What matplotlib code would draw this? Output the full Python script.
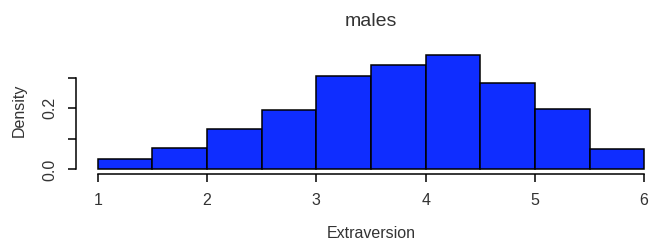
import matplotlib
matplotlib.use("Agg")
import matplotlib.pyplot as plt

# histogram of extraversion scores (density), bins of width 0.5
bin_edges = [1.0, 1.5, 2.0, 2.5, 3.0, 3.5, 4.0, 4.5, 5.0, 5.5, 6.0]
density = [0.035, 0.071, 0.131, 0.195, 0.306, 0.341, 0.374, 0.284, 0.199, 0.068]
x_ticks = [1, 2, 3, 4, 5, 6]
y_ticks = [0.0, 0.1, 0.2, 0.3]
y_tick_labels = ["0.0", "", "0.2", ""]

plt.rcParams['font.family'] = ['Liberation Sans', 'DejaVu Sans']

W, H = 653, 244
fig = plt.figure(figsize=(W / 100, H / 100), dpi=100)

# plot region in pixels (R-style 4% padding around data range)
left, right, top, bottom = 76, 666, 50.6, 174
ax = fig.add_axes([left / W, 1 - bottom / H, (right - left) / W, (bottom - top) / H])

widths = [b - a for a, b in zip(bin_edges[:-1], bin_edges[1:])]
ax.bar(bin_edges[:-1], density, width=widths, align='edge',
       color='#0f2dff', edgecolor='black', linewidth=1.1)

ax.set_xlim(0.8, 6.2)
ax.set_ylim(-0.01496, 0.389)

for s in ['top', 'right']:
    ax.spines[s].set_visible(False)
ax.spines['bottom'].set_bounds(1, 6)
ax.spines['left'].set_bounds(0, 0.3)
ax.spines['bottom'].set_linewidth(1.1)
ax.spines['left'].set_linewidth(1.1)

ax.set_xticks(x_ticks)
ax.set_xticklabels([str(t) for t in x_ticks])
ax.set_yticks(y_ticks)
ax.set_yticklabels(y_tick_labels, rotation=90, va='center')

txt = '#333333'
ax.tick_params(axis='x', length=5.5, width=1.1, pad=8, labelsize=11.5, colors='black', labelcolor=txt)
ax.tick_params(axis='y', length=5.5, width=1.1, pad=8, labelsize=11.5, colors='black', labelcolor=txt)

fig.text(371 / W, 1 - 22 / H, "males", ha='center', va='center', fontsize=14, color=txt)
fig.text(371 / W, 1 - 234 / H, "Extraversion", ha='center', va='center', fontsize=11.5, color=txt)
fig.text(19 / W, 1 - 110 / H, "Density", ha='center', va='center', rotation=90, fontsize=11.5, color=txt)

fig.savefig("out.png", dpi=100)
